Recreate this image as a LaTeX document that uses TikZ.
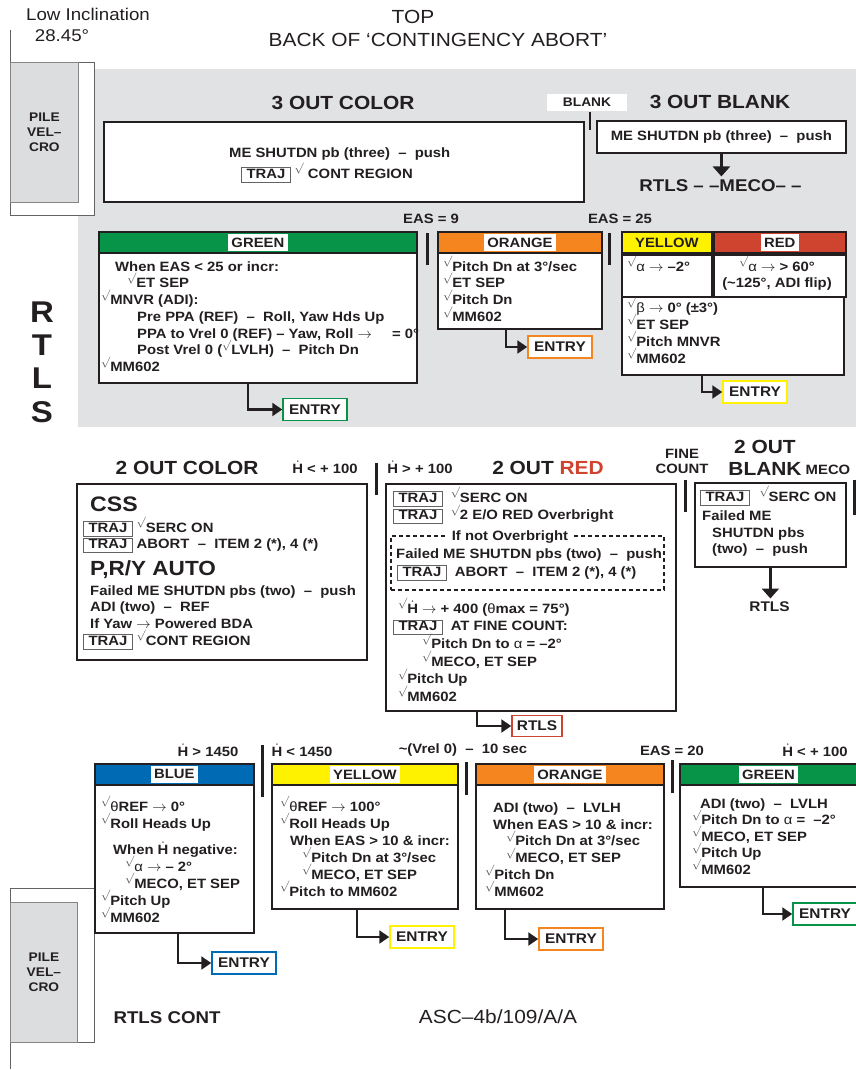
\documentclass[tikz,border=0pt]{standalone}
\usepackage{fontspec}
\setmainfont{Liberation Sans}[FakeStretch=1.1]
\usetikzlibrary{arrows.meta}
\definecolor{Ink}{RGB}{35,31,32}
\definecolor{PanelClr}{RGB}{225,226,228}
\definecolor{PileClr}{RGB}{220,221,223}
\definecolor{GreenClr}{RGB}{8,148,72}
\definecolor{OrangeClr}{RGB}{245,134,31}
\definecolor{YellowClr}{RGB}{255,242,0}
\definecolor{RedClr}{RGB}{207,68,47}
\definecolor{BlueClr}{RGB}{0,106,180}
\newcommand\ck{{\color{Ink!80}\raisebox{6.5pt}[9pt][0pt]{\fontsize{10.5}{10.5}\selectfont$\surd$}}}
\newcommand\trj{{\color{Ink!70}\fboxsep=1pt\fboxrule=.7pt\fbox{\color{Ink}\rule[-2.5pt]{0pt}{11.5pt}\makebox[46pt]{TRAJ}}}}
\newcommand\Hd{$\dot{\mbox{H}}$}
\newcommand\linetop{\rule{0pt}{13.5pt}}
\newcommand\galpha{{\mdseries α}}
\newcommand\gbeta{{\mdseries β}}
\newcommand\gtheta{{\mdseries θ}}
\lineskiplimit=-100pt

\begin{document}
\begin{tikzpicture}[x=1pt,y=-1pt,
  font=\bfseries\fontsize{13.5}{16.7}\selectfont,text=Ink,
  frame/.style={draw=Ink,line width=1.8pt,fill=white,anchor=north west,inner sep=0},
  band/.style={draw=Ink,line width=1.8pt,fill=#1,anchor=north west,inner sep=0,minimum height=21},
  tag/.style={fill=white,inner xsep=3.5pt,inner ysep=3.5pt},
  body/.style={anchor=north west,align=left,inner sep=0},
  heading/.style={font=\bfseries\fontsize{19}{22}\selectfont},
  cond/.style={font=\bfseries\fontsize{13.5}{15}\selectfont},
  big/.style={font=\bfseries\fontsize{20.5}{24}\selectfont,anchor=base west,inner sep=0},
  note/.style={font=\mdseries\fontsize{19}{22}\selectfont},
  exitbox/.style={draw=#1,line width=1.5pt,fill=white,minimum width=64,minimum height=22,inner sep=0,font=\bfseries\fontsize{14}{16}\selectfont},
  flow/.style={draw=Ink,line width=2.2pt,-{Triangle[length=10pt,width=13pt]}},
  drop/.style={draw=Ink,line width=3pt,-{Triangle[length=10pt,width=17pt]}},
  gate/.style={draw=Ink,line width=3pt},
  dashbox/.style={draw=Ink,line width=1.5pt,dash pattern=on 4pt off 3pt,anchor=north west,inner sep=0},
  pilecase/.style={draw=Ink!70,line width=.8pt,fill=white,anchor=north west,inner sep=0},
  pilepad/.style={draw=Ink!55,line width=.8pt,fill=PileClr,anchor=north west,inner sep=0},
  piletext/.style={align=center,font=\bfseries\fontsize{12.5}{15}\selectfont}]

\useasboundingbox (0,0) rectangle (856,1070);

\fill[PanelClr] (78,69) rectangle (856,427);

\node[pilecase,minimum width=84,minimum height=153] (pileT) at (10,62) {};
\node[pilepad,minimum width=68,minimum height=140] (pileTpad) at (10,62) {};
\node[piletext] (pileTtxt) at (pileTpad.center) {PILE\\VEL–\\CRO};
\draw[Ink!70,line width=.8pt] (pileT.north west) -- ++(0,-32);

\node[pilecase,minimum width=84,minimum height=154] (pileB) at (10,888) {};
\node[pilepad,anchor=south west,minimum width=67,minimum height=140] (pileBpad) at (pileB.south west) {};
\node[piletext] (pileBtxt) at (pileBpad.center) {PILE\\VEL–\\CRO};
\draw[Ink!70,line width=.8pt] (pileB.south west) -- ++(0,26);

\node[note,font=\mdseries\fontsize{17}{20}\selectfont] (lowinc) at (88,14) {Low Inclination};
\node[note,font=\mdseries\fontsize{17}{20}\selectfont] (incl) at (62,36) {28.45°};
\node[note] (topside) at (413,17) {TOP};
\node[note] (backside) at (438,40) {BACK OF ‘CONTINGENCY ABORT’};

\node[heading] (c3head) at (343,103) {3 OUT COLOR};
\node[frame,minimum width=480,minimum height=80] (c3box) at (103,121) {};
\node[body,font=\bfseries\fontsize{13.5}{21}\selectfont] (c3txt) at (229,143.5) {\linetop ME SHUTDN pb (three) \ – \ push\\\hspace*{12pt}\trj\ \ck\ CONT REGION};

\node[tag,font=\bfseries\fontsize{12.5}{14}\selectfont,minimum width=80,minimum height=17,inner sep=0] (blank) at (587,102.5) {BLANK};
\draw[gate,line width=2.5pt] (590,112) -- (590,130);
\node[heading] (b3head) at (720,102) {3 OUT BLANK};
\node[frame,minimum width=249,minimum height=32] (b3box) at (596,120) {};
\node (b3txt) at (b3box.center) {ME SHUTDN pb (three) \ – \ push};
\node[font=\bfseries\fontsize{17}{20}\selectfont] (meco) at (720.5,186) {RTLS – –MECO– –};
\draw[drop] (b3box.south) -- (b3box.south |- meco.north);

\node[cond] (eas9) at (431,219) {EAS = 9};
\node[cond] (eas25) at (620,219) {EAS = 25};

\node[frame,minimum width=318,minimum height=151] (grnT) at (98,231) {};
\node[band=GreenClr,minimum width=318] (grnTband) at (grnT.north west) {};
\node[tag] (grnTtag) at (grnTband.center) {GREEN};
\node[body] (grnTtxt) at (101,257.5) {\linetop\hspace*{14pt}When EAS < 25 or incr:\\
  \hspace*{26pt}\ck ET SEP\\
  \ck MNVR (ADI):\\
  \hspace*{36pt}Pre PPA (REF) \ – \ Roll, Yaw Hds Up\\
  \hspace*{36pt}PPA to Vrel 0 (REF) – Yaw, Roll $\rightarrow$\hspace{16pt} = 0°\\
  \hspace*{36pt}Post Vrel 0 (\ck LVLH) \ – \ Pitch Dn\\
  \ck MM602};
\node[exitbox=GreenClr] (grnTexit) at (315,409.5) {ENTRY};
\draw[flow] ([xshift=150pt]grnT.south west) |- (grnTexit.west);

\draw[gate] (427,233) -- (427,265);
\draw[gate] (609,233) -- (609,265);

\node[frame,minimum width=164,minimum height=97] (ornT) at (437,231) {};
\node[band=OrangeClr,minimum width=164] (ornTband) at (ornT.north west) {};
\node[tag] (ornTtag) at (ornTband.center) {ORANGE};
\node[body] (ornTtxt) at (443,257.5) {\linetop\ck Pitch Dn at 3°/sec\\\ck ET SEP\\\ck Pitch Dn\\\ck MM602};
\node[exitbox=OrangeClr] (ornTexit) at (560,347) {ENTRY};
\draw[flow] ([xshift=69pt]ornT.south west) |- (ornTexit.west);

\node[frame,minimum width=222,minimum height=143] (yrT) at (621,231) {};
\node[band=YellowClr,minimum width=90] (yelTband) at (yrT.north west) {YELLOW};
\node[band=RedClr,minimum width=132] (redTband) at (yelTband.north east) {};
\node[tag] (redTtag) at (redTband.center) {RED};
\node[frame,minimum width=90,minimum height=42] (yelTcell) at (yelTband.south west) {};
\node[frame,minimum width=132,minimum height=42] (redTcell) at (redTband.south west) {};
\node[body] (yelTtxt) at (627,257.5) {\linetop\ck\galpha\ $\rightarrow$ –2°};
\node[body,anchor=north,align=center,font=\bfseries\fontsize{13.5}{16}\selectfont] (redTtxt) at (777,257.5) {\linetop\ck\galpha\ $\rightarrow$ > 60°\\(\textasciitilde125°, ADI flip)};
\node[body,font=\bfseries\fontsize{13.5}{17}\selectfont] (yrTtxt) at (627,298.5) {\linetop\ck\gbeta\ $\rightarrow$ 0° (±3°)\\\ck ET SEP\\\ck Pitch MNVR\\\ck MM602};
\node[exitbox=YellowClr] (yrTexit) at (755,392) {ENTRY};
\draw[flow] ([xshift=81pt]yrT.south west) |- (yrTexit.west);

\node[font=\bfseries\fontsize{30}{33.3}\selectfont,align=center] (rtls) at (42,362) {R\\T\\L\\S};

\node[heading] (c2head) at (187,468) {2 OUT COLOR};
\node[cond] (hdlow) at (325,467) {\Hd\ < + 100};
\node[frame,minimum width=290,minimum height=176] (c2box) at (76,483) {};
\node[big,font=\bfseries\fontsize{21}{24}\selectfont] (css) at (90,511) {CSS};
\node[body,font=\bfseries\fontsize{13.5}{16.5}\selectfont] (csstxt) at (83,518.5) {\linetop\trj\ \ck SERC ON\\\trj\ ABORT \ – \ ITEM 2 (*), 4 (*)};
\node[big] (pry) at (90,575) {P,R/Y AUTO};
\node[body,font=\bfseries\fontsize{13.5}{16.6}\selectfont] (prytxt) at (83,581.5) {\linetop\hspace*{7pt}Failed ME SHUTDN pbs (two) \ – \ push\\
  \hspace*{7pt}ADI (two) \ – \ REF\\
  \hspace*{7pt}If Yaw $\rightarrow$ Powered BDA\\
  \trj\ \ck CONT REGION};
\draw[gate] (376,463) -- (376,495);

\node[cond] (hdhigh) at (420,467) {\Hd\ > + 100};
\node[heading] (r2head) at (548,468) {2 OUT \textcolor{RedClr}{RED}};
\node[frame,minimum width=290,minimum height=227] (r2box) at (385,483) {};
\node[body,font=\bfseries\fontsize{13.5}{17.5}\selectfont] (r2txt) at (393,488.5) {\linetop\trj\ \ \ck SERC ON\\\trj\ \ \ck 2 E/O RED Overbright};
\node[dashbox,minimum width=273,minimum height=54] (ovrbox) at (390,535) {};
\node[tag,inner ysep=1pt] (ovrtag) at (510,537) {If not Overbright};
\node[anchor=base,inner sep=0] (ovrtxt) at (529,558) {Failed ME SHUTDN pbs (two) \ – \ push};
\node[anchor=base west,inner sep=0] (ovrabort) at (397,576) {\trj\ \ ABORT \ – \ ITEM 2 (*), 4 (*)};
\node[body,font=\bfseries\fontsize{13.5}{17.6}\selectfont] (r2steps) at (393,599.5) {\linetop\hspace*{5pt}\ck\Hd\ $\rightarrow$ + 400 (\gtheta max = 75°)\\
  \trj\ \ AT FINE COUNT:\\
  \hspace*{29pt}\ck Pitch Dn to \galpha\ = –2°\\
  \hspace*{29pt}\ck MECO, ET SEP\\
  \hspace*{5pt}\ck Pitch Up\\
  \hspace*{5pt}\ck MM602};
\node[exitbox=RedClr,minimum width=50,minimum height=21] (r2exit) at (537,726) {RTLS};
\draw[flow] ([xshift=92pt]r2box.south west) |- (r2exit.west);

\node[cond,align=center] (fine) at (682,461) {FINE\\COUNT};
\draw[gate] (685,480) -- (685,512);
\node[heading,align=center] (b2head) at (765,458) {2 OUT\\BLANK};
\node[cond] (mecolbl) at (828,470) {MECO};
\node[frame,minimum width=151,minimum height=84] (b2box) at (694,482) {};
\node[body,font=\bfseries\fontsize{13.5}{16.5}\selectfont] (b2txt) at (700,487.5) {\linetop\trj\hspace{10pt}\ck SERC ON\\[3pt]
  \hspace*{2pt}Failed ME\\
  \hspace*{12pt}SHUTDN pbs\\
  \hspace*{12pt}(two) \ – \ push};
\node[font=\bfseries\fontsize{14}{16}\selectfont] (b2rtls) at (769.5,607) {RTLS};
\draw[drop] (b2box.south) -- (b2box.south |- b2rtls.north);
\draw[gate] (854,480) -- (854,515);

\node[cond] (hdblue) at (208,750) {\Hd\ > 1450};
\node[frame,minimum width=159,minimum height=169] (bluB) at (94,763) {};
\node[band=BlueClr,minimum width=159] (bluBband) at (bluB.north west) {};
\node[tag] (bluBtag) at (bluBband.center) {BLUE};
\node[body,font=\bfseries\fontsize{13.5}{17}\selectfont] (bluBtxt) at (101,797.5) {\linetop\ck\gtheta REF $\rightarrow$ 0°\\
  \ck Roll Heads Up\\[9pt]
  \hspace*{12pt}When \Hd\ negative:\\
  \hspace*{24pt}\ck\galpha\ $\rightarrow$ – 2°\\
  \hspace*{24pt}\ck MECO, ET SEP\\
  \ck Pitch Up\\
  \ck MM602};
\node[exitbox=BlueClr] (bluBexit) at (244,963) {ENTRY};
\draw[flow] ([xshift=84pt]bluB.south west) |- (bluBexit.west);
\draw[gate] (262,745) -- (262,797);

\node[cond] (hdyel) at (302,750) {\Hd\ < 1450};
\node[frame,minimum width=186,minimum height=145] (yelB) at (271,763) {};
\node[band=YellowClr,minimum width=186] (yelBband) at (yelB.north west) {};
\node[tag] (yelBtag) at (yelBband.center) {YELLOW};
\node[body,font=\bfseries\fontsize{13.5}{17}\selectfont] (yelBtxt) at (280,797.5) {\linetop\ck\gtheta REF $\rightarrow$ 100°\\
  \ck Roll Heads Up\\
  \hspace*{10pt}When EAS > 10 \& incr:\\
  \hspace*{22pt}\ck Pitch Dn at 3°/sec\\
  \hspace*{22pt}\ck MECO, ET SEP\\
  \ck Pitch to MM602};
\node[exitbox=YellowClr] (yelBexit) at (422,937) {ENTRY};
\draw[flow] ([xshift=86pt]yelB.south west) |- (yelBexit.west);

\node[cond] (vrel) at (463,750) {\textasciitilde(Vrel 0) \ – \ 10 sec};
\draw[gate] (466,762) -- (466,795);
\node[frame,minimum width=188,minimum height=145] (ornB) at (475,763) {};
\node[band=OrangeClr,minimum width=188] (ornBband) at (ornB.north west) {};
\node[tag] (ornBtag) at (ornBband.center) {ORANGE};
\node[body,font=\bfseries\fontsize{13.5}{16.8}\selectfont] (ornBtxt) at (485,798.5) {\linetop\hspace*{8pt}ADI (two) \ – \ LVLH\\
  \hspace*{8pt}When EAS > 10 \& incr:\\
  \hspace*{21pt}\ck Pitch Dn at 3°/sec\\
  \hspace*{21pt}\ck MECO, ET SEP\\
  \ck Pitch Dn\\
  \ck MM602};
\node[exitbox=OrangeClr] (ornBexit) at (571,939) {ENTRY};
\draw[flow] ([xshift=30pt]ornB.south west) |- (ornBexit.west);

\node[cond] (eas20) at (672,751) {EAS = 20};
\draw[gate] (672,760) -- (672,793);
\node[cond] (hdgrn) at (815,750) {\Hd\ < + 100};
\node[frame,minimum width=177,minimum height=123] (grnB) at (679,763) {};
\node[band=GreenClr,minimum width=177] (grnBband) at (grnB.north west) {};
\node[tag] (grnBtag) at (grnBband.center) {GREEN};
\node[body,font=\bfseries\fontsize{13.5}{16.5}\selectfont] (grnBtxt) at (692,794.5) {\linetop\hspace*{8pt}ADI (two) \ – \ LVLH\\
  \ck Pitch Dn to \galpha\ = \ –2°\\
  \ck MECO, ET SEP\\
  \ck Pitch Up\\
  \ck MM602};
\node[exitbox=GreenClr] (grnBexit) at (825,914) {ENTRY};
\draw[flow] ([xshift=84pt]grnB.south west) |- (grnBexit.west);

\node[font=\bfseries\fontsize{17}{20}\selectfont] (rtlscont) at (167,1018) {RTLS CONT};
\node[note] (asc) at (498,1017) {ASC–4b/109/A/A};

\end{tikzpicture}
\end{document}
